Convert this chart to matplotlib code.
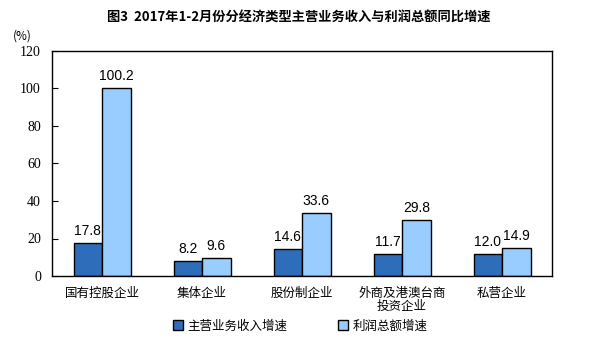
import matplotlib.pyplot as plt
import numpy as np

plt.rcParams['font.family'] = ['Liberation Sans', 'Noto Sans CJK SC']

# data
categories = ["国有控股企业", "集体企业", "股份制企业", "外商及港澳台商\n投资企业", "私营企业"]
revenue_growth = [17.8, 8.2, 14.6, 11.7, 12.0]
profit_growth = [100.2, 9.6, 33.6, 29.8, 14.9]
series_names = ["主营业务收入增速", "利润总额增速"]
yticks = [0, 20, 40, 60, 80, 100, 120]

fig = plt.figure(figsize=(5.98, 3.43), dpi=100)
ax = fig.add_axes([52 / 598, 1 - 276 / 343, 500 / 598, 225 / 343])

x = np.arange(len(categories))
w = 0.285
b1 = ax.bar(x - w / 2, revenue_growth, w, color="#2E6DB9", edgecolor="black", linewidth=1.0,
            label=series_names[0])
b2 = ax.bar(x + w / 2, profit_growth, w, color="#99CCFF", edgecolor="black", linewidth=1.0,
            label=series_names[1])

for bars, vals in ((b1, revenue_growth), (b2, profit_growth)):
    for r, v in zip(bars, vals):
        ax.text(r.get_x() + r.get_width() / 2, v + 2.5, f"{v:.1f}", ha="center", va="bottom",
                fontsize=10)

ax.set_xlim(-0.5, len(categories) - 0.5)
ax.set_ylim(0, 120)
ax.set_yticks(yticks)
ax.set_yticklabels([str(t) for t in yticks], family="Liberation Serif", fontsize=10)
ax.tick_params(axis="y", direction="in", length=4, pad=8)
ax.set_xticks(x)
ax.set_xticklabels(categories, fontsize=9, family=["Noto Sans CJK SC"], linespacing=1.0)
ax.tick_params(axis="x", length=0, pad=8)
for s in ax.spines.values():
    s.set_linewidth(1.0)

fig.text(22 / 598, 1 - 36 / 343, "(%)", fontsize=8.5, family=["Noto Sans CJK SC"], ha="center",
         va="center")
fig.text(0.5, 1 - 18 / 343, "图3  2017年1-2月份分经济类型主营业务收入与利润总额同比增速",
         fontsize=9.5, ha="center", va="center", family=["Noto Sans CJK SC"], weight="bold")

leg = fig.legend(handles=[b1, b2], loc="center", bbox_to_anchor=(300 / 598, 1 - 326 / 343),
                 ncol=2, frameon=False, prop={"family": "Noto Sans CJK SC", "size": 9},
                 handlelength=0.8, handleheight=0.8, columnspacing=4, handletextpad=0.4)

fig.savefig("out.png", dpi=100)
